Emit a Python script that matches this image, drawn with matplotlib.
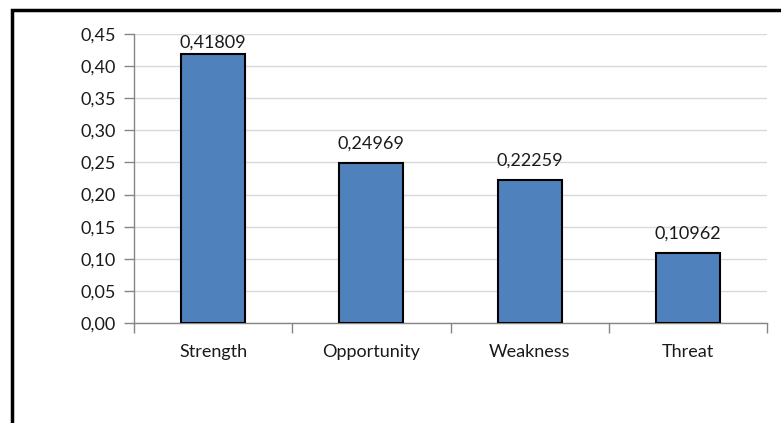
import matplotlib.pyplot as plt
from matplotlib.ticker import FuncFormatter, MultipleLocator
from matplotlib.patches import Rectangle

categories = ["Strength", "Opportunity", "Weakness", "Threat"]
values = [0.41809, 0.24969, 0.22259, 0.10962]
value_labels = ["0,41809", "0,24969", "0,22259", "0,10962"]

plt.rcParams['font.family'] = ['Lato', 'DejaVu Sans']
fs = 13

fig = plt.figure(figsize=(7.81, 4.23), dpi=100)
ax = fig.add_axes([134 / 781, 1 - 323 / 423, (767 - 134) / 781, (323 - 34) / 423])

x = range(len(categories))
bars = ax.bar(x, values, width=0.405, color='#4F81BD', edgecolor='black',
              linewidth=1.5, zorder=3)
# labels sit above the bars, pushed down when they would leave the plot
for b, lab in zip(bars, value_labels):
    y = min(b.get_height() + 0.0296, 0.436)
    ax.text(b.get_x() + b.get_width() / 2, y, lab, ha='center', va='center',
            fontsize=fs, color='#1a1a1a', zorder=4)

ax.set_xlim(-0.5, len(categories) - 0.5)
ax.set_ylim(0, 0.45)
ax.yaxis.set_major_locator(MultipleLocator(0.05))
ax.yaxis.set_major_formatter(FuncFormatter(lambda v, p: f"{v:.2f}".replace('.', ',')))
ax.grid(axis='y', color='#D9D9D9', linewidth=1, zorder=0)

ax.set_xticks(list(x))
ax.set_xticklabels(categories)
ax.set_xticks([i + 0.5 for i in range(-1, len(categories))], minor=True)
ax.tick_params(axis='x', which='major', length=0, pad=15, labelsize=fs, labelcolor='#1a1a1a')
ax.tick_params(axis='x', which='minor', length=7, width=1, color='#868686')
ax.tick_params(axis='y', length=7, width=1, color='#868686', labelsize=fs,
               labelcolor='#1a1a1a', pad=6)

for s in ['top', 'right']:
    ax.spines[s].set_visible(False)
for s in ['left', 'bottom']:
    ax.spines[s].set_color('#868686')
    ax.spines[s].set_linewidth(1)

# chart border (cut off on the right and bottom)
fig.patches.append(Rectangle((12 / 781, -0.1), 1.2, 1 - 10 / 423 + 0.1,
                             transform=fig.transFigure, fill=False,
                             edgecolor='black', linewidth=2.5))

fig.savefig('out.png', dpi=100)
